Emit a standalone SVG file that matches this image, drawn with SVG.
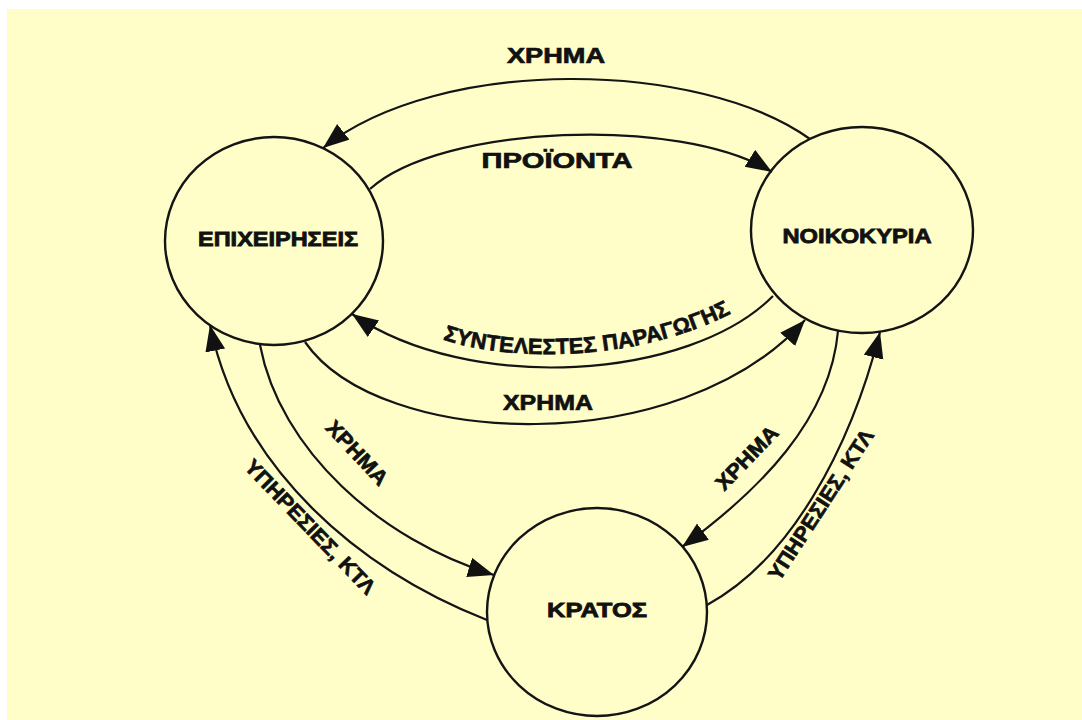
<svg xmlns="http://www.w3.org/2000/svg" width="1082" height="720" viewBox="0 0 1082 720">
  <defs>
    <style>
      .node { fill: none; stroke: #141414; stroke-width: 2.4; }
      .conn { fill: none; stroke: #141414; stroke-width: 2.2; }
      .lbl { font-family: "Liberation Sans", Arial, sans-serif; font-weight: bold; fill: #111; stroke: #111; stroke-width: 0.7; text-anchor: middle; }
      .nlbl { font-family: "Liberation Sans", Arial, sans-serif; font-weight: bold; fill: #111; stroke: #111; stroke-width: 0.8; text-anchor: middle; font-size: 20px; }
    </style>
    <marker id="arr" markerUnits="userSpaceOnUse" markerWidth="28" markerHeight="22" refX="26" refY="10" orient="auto">
      <path d="M0,0 L26,10 L0,20 z" fill="#111"/>
    </marker>
    <path id="tp-synt" d="M 423 331 C 480 362, 640 370, 750 303"/>
  </defs>
  <rect x="0" y="0" width="1082" height="720" fill="#ffffff"/>
  <rect x="7" y="9" width="1075" height="711" fill="#FFFEC8"/>

  <g id="connectors">
    <path class="conn" marker-end="url(#arr)" d="M 810 139 C 700 60, 440 55, 323 148"/>
    <path class="conn" marker-end="url(#arr)" d="M 370 189 C 440 125, 680 115, 772 172"/>
    <path class="conn" marker-end="url(#arr)" d="M 773 296 C 690 380, 470 395, 352 314"/>
    <path class="conn" marker-end="url(#arr)" d="M 305 342 C 380 450, 680 460, 805 320"/>
    <path class="conn" marker-end="url(#arr)" d="M 260 345 C 280 450, 380 540, 494 575"/>
    <path class="conn" marker-end="url(#arr)" d="M 487 620 C 360 570, 240 470, 210 325"/>
    <path class="conn" marker-end="url(#arr)" d="M 838 331 C 830 420, 760 490, 682 547"/>
    <path class="conn" marker-end="url(#arr)" d="M 707 605 C 790 560, 850 450, 880 332"/>
  </g>

  <g id="labels">
    <text class="lbl" x="556" y="63" font-size="22" textLength="98" lengthAdjust="spacingAndGlyphs">ΧΡΗΜΑ</text>
    <text class="lbl" x="557" y="168" font-size="22" textLength="151" lengthAdjust="spacingAndGlyphs">ΠΡΟΪΟΝΤΑ</text>
    <text class="lbl" font-size="22"><textPath href="#tp-synt" startOffset="50%">ΣΥΝΤΕΛΕΣΤΕΣ ΠΑΡΑΓΩΓΗΣ</textPath></text>
    <text class="lbl" x="548" y="410" font-size="22" textLength="90" lengthAdjust="spacingAndGlyphs">ΧΡΗΜΑ</text>
    <text class="lbl" x="357" y="460" font-size="21" textLength="80" lengthAdjust="spacingAndGlyphs" transform="rotate(47 357 453)">ΧΡΗΜΑ</text>
    <text class="lbl" x="310" y="534" font-size="21" textLength="178" lengthAdjust="spacingAndGlyphs" transform="rotate(46 310 527)">ΥΠΗΡΕΣΙΕΣ, ΚΤΛ</text>
    <text class="lbl" x="747" y="465" font-size="21" textLength="80" lengthAdjust="spacingAndGlyphs" transform="rotate(-46 747 458)">ΧΡΗΜΑ</text>
    <text class="lbl" x="821" y="512" font-size="21" textLength="175" lengthAdjust="spacingAndGlyphs" transform="rotate(-57 821 505)">ΥΠΗΡΕΣΙΕΣ, ΚΤΛ</text>
  </g>

  <g id="node-epixeiriseis">
    <ellipse class="node" cx="274" cy="241" rx="109" ry="104"/>
    <text class="nlbl" x="278" y="246" textLength="160" lengthAdjust="spacingAndGlyphs">ΕΠΙΧΕΙΡΗΣΕΙΣ</text>
  </g>
  <g id="node-noikokyria">
    <ellipse class="node" cx="862" cy="230" rx="111" ry="103"/>
    <text class="nlbl" x="857" y="243" textLength="149" lengthAdjust="spacingAndGlyphs">ΝΟΙΚΟΚΥΡΙΑ</text>
  </g>
  <g id="node-kratos">
    <ellipse class="node" cx="597" cy="612" rx="110" ry="104"/>
    <text class="nlbl" x="597" y="617" textLength="100" lengthAdjust="spacingAndGlyphs">ΚΡΑΤΟΣ</text>
  </g>
</svg>
